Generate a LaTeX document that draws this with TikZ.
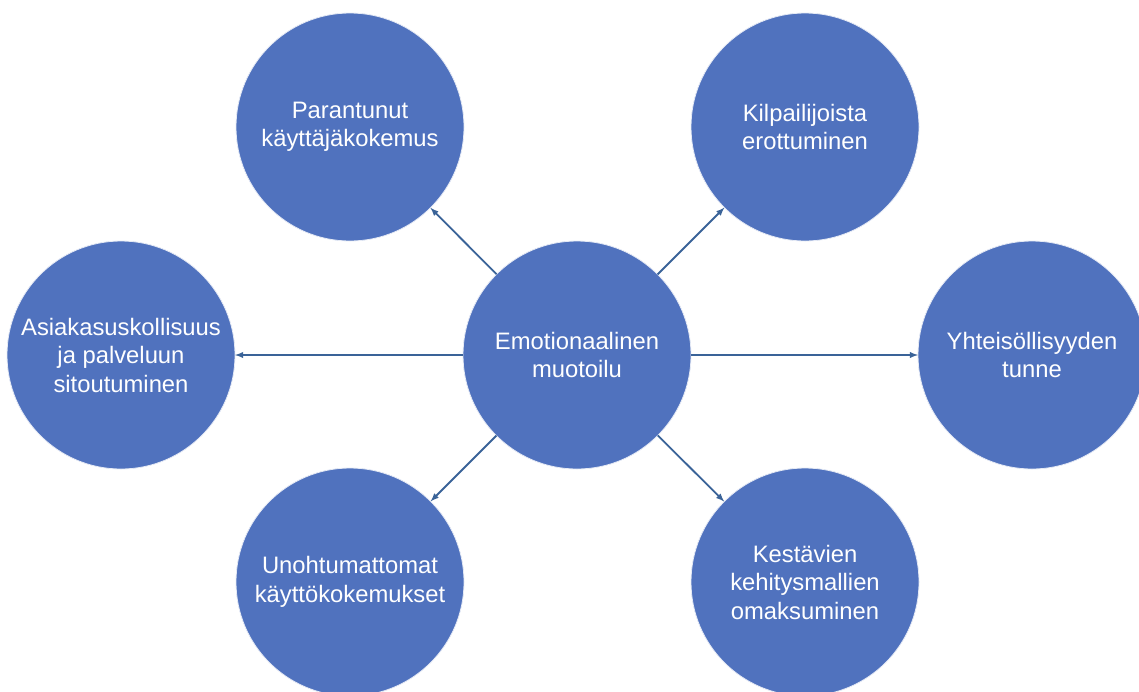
\documentclass[tikz,border=0pt]{standalone}
\usepackage{fontspec}
\setmainfont{Liberation Sans}
\usepackage{xcolor}
\definecolor{bubblefill}{HTML}{5072BE}
\definecolor{arrowblue}{HTML}{3A6398}
\begin{document}
\begin{tikzpicture}[>=latex,x=1pt,y=-1pt,
    bubble/.style={circle,fill=bubblefill,draw=white!85!bubblefill,line width=0.8pt,
        minimum size=228pt,inner sep=0pt,outer sep=0pt,text=white,align=center,
        font=\fontsize{23.8}{28.5}\selectfont},
    link/.style={->,draw=arrowblue,line width=1.8pt}]
        \clip (0,0) rectangle (1139,691);
        \useasboundingbox (0,0) rectangle (1139,691);
        %keskus
        \node[bubble] (emo) at (577,355) {Emotionaalinen\\muotoilu};
        %ympäröivät
        \node[bubble] (kayttaja) at (350,127) {Parantunut\\käyttäjäkokemus};
        \node[bubble] (kilpailu) at (805,127) {Kilpailijoista\\erottuminen};
        \node[bubble] (uskollisuus) at (121,355) {Asiakasuskollisuus\\ja palveluun\\sitoutuminen};
        \node[bubble] (yhteiso) at (1032,355) {Yhteisöllisyyden\\tunne};
        \node[bubble] (unohtuma) at (350,582) {Unohtumattomat\\käyttökokemukset};
        \node[bubble] (kestava) at (805,582) {Kestävien\\kehitysmallien\\omaksuminen};
        %nuolet
        \foreach \n in {kayttaja,kilpailu,uskollisuus,yhteiso,unohtuma,kestava}{
        \draw[link](emo)--(\n);
        }
    \end{tikzpicture}
\end{document}
